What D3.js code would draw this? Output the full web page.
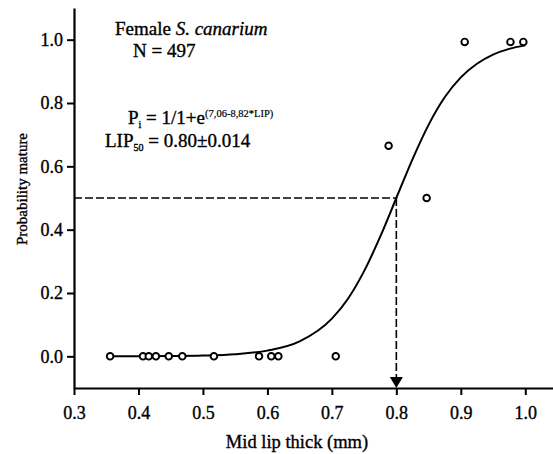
<!DOCTYPE html>
<html>
<head>
<meta charset="utf-8">
<script src="https://cdn.jsdelivr.net/npm/d3@7"></script>
<style>
  body { margin: 0; background: #fff; }
  text { font-family: "Liberation Serif", "Times New Roman", serif; fill: #000; stroke: #000; stroke-width: 0.35px; }
</style>
</head>
<body>
<div id="chart"></div>
<script>
// observed proportions mature by mid lip thickness
const lipX = [0.356, 0.407, 0.416, 0.427, 0.447, 0.468, 0.517, 0.587, 0.606, 0.617, 0.706, 0.788, 0.847, 0.906, 0.977, 0.997];
const propMature = [0, 0, 0, 0, 0, 0, 0, 0, 0, 0, 0, 0.665, 0.5, 0.993, 0.993, 0.993];

// fitted logistic curve
const curveX = [0.356, 0.40, 0.45, 0.50, 0.55, 0.60, 0.65, 0.70, 0.725, 0.75, 0.775, 0.80, 0.825, 0.85, 0.875, 0.90, 0.925, 0.95, 0.975, 1.0];
const curveY = [0.0002, 0.0003, 0.0009, 0.0025, 0.0067, 0.018, 0.047, 0.119, 0.182, 0.269, 0.378, 0.5, 0.622, 0.731, 0.818, 0.881, 0.924, 0.953, 0.971, 0.982];

const xTicks = [0.3, 0.4, 0.5, 0.6, 0.7, 0.8, 0.9, 1.0];
const yTicks = [0.0, 0.2, 0.4, 0.6, 0.8, 1.0];
const LIP50 = 0.80;

const width = 553, height = 454;
const svg = d3.select("#chart").append("svg")
    .attr("width", width)
    .attr("height", height);

const x = d3.scaleLinear().domain([0.3, 1.043]).range([74, 553]);
const y = d3.scaleLinear().domain([-0.1, 1.1]).range([388, 8]);

// axes
const xAxis = d3.axisBottom(x).tickValues(xTicks).tickFormat(d3.format(".1f")).tickSize(7).tickPadding(11).tickSizeOuter(0);
const yAxis = d3.axisLeft(y).tickValues(yTicks).tickFormat(d3.format(".1f")).tickSize(7).tickPadding(4).tickSizeOuter(0);

const gx = svg.append("g").attr("transform", `translate(0,${y(-0.1)})`).call(xAxis);
const gy = svg.append("g").attr("transform", `translate(${x(0.3)},0)`).call(yAxis);

[gx, gy].forEach(g => {
    g.select(".domain").attr("stroke", "#000").attr("stroke-width", 2.2);
    g.selectAll(".tick line").attr("stroke", "#000").attr("stroke-width", 2);
    g.selectAll(".tick text")
        .style("font-size", "18px")
        .style("font-family", "Liberation Serif, serif")
        .attr("stroke", "#000").attr("stroke-width", 0.35);
});

// axis titles
svg.append("text")
    .attr("x", 297).attr("y", 448)
    .attr("text-anchor", "middle")
    .style("font-size", "18.5px")
    .text("Mid lip thick (mm)");

svg.append("text")
    .attr("transform", "translate(27,189) rotate(-90)")
    .attr("text-anchor", "middle")
    .style("font-size", "15px")
    .text("Probability mature");

// dashed reference lines
svg.append("line")
    .attr("x1", x(0.3)).attr("x2", x(LIP50))
    .attr("y1", y(0.5)).attr("y2", y(0.5))
    .attr("stroke", "#000").attr("stroke-width", 1.6)
    .attr("stroke-dasharray", "8,3");

svg.append("line")
    .attr("x1", x(LIP50)).attr("x2", x(LIP50))
    .attr("y1", y(0.5)).attr("y2", y(-0.1) - 10)
    .attr("stroke", "#000").attr("stroke-width", 1.6)
    .attr("stroke-dasharray", "8,3");

svg.append("path")
    .attr("d", `M${x(LIP50) - 6.5},${y(-0.1) - 11} L${x(LIP50) + 6.5},${y(-0.1) - 11} L${x(LIP50)},${y(-0.1)} Z`)
    .attr("fill", "#000");

// fitted curve
const line = d3.line()
    .x((d, i) => x(curveX[i]))
    .y(d => y(d))
    .curve(d3.curveMonotoneX);

svg.append("path")
    .attr("d", line(curveY))
    .attr("fill", "none")
    .attr("stroke", "#000")
    .attr("stroke-width", 2);

// observed points
svg.selectAll("circle.obs")
    .data(propMature)
    .enter()
    .append("circle")
    .attr("class", "obs")
    .attr("cx", (d, i) => x(lipX[i]))
    .attr("cy", d => y(d))
    .attr("r", 3.3)
    .attr("fill", "#fff")
    .attr("stroke", "#000")
    .attr("stroke-width", 1.9);

// annotations
const t1 = svg.append("text").attr("x", 115).attr("y", 35).style("font-size", "19px");
t1.append("tspan").text("Female ");
t1.append("tspan").style("font-style", "italic").text("S. canarium");

svg.append("text").attr("x", 133).attr("y", 57).style("font-size", "19px").text("N = 497");

const t3 = svg.append("text").attr("x", 128).attr("y", 124).style("font-size", "19px");
t3.append("tspan").text("P");
t3.append("tspan").attr("dy", 4).style("font-size", "10px").text("i");
t3.append("tspan").attr("dy", -4).text(" = 1/1+e");
t3.append("tspan").attr("dy", -7).style("font-size", "10.5px").attr("stroke-width", 0.2).text("(7,06-8,82*LIP)");

const t4 = svg.append("text").attr("x", 105).attr("y", 147).style("font-size", "19px");
t4.append("tspan").text("LIP");
t4.append("tspan").attr("dy", 4).style("font-size", "10px").text("50");
t4.append("tspan").attr("dy", -4).text(" = 0.80\u00b10.014");
</script>
</body>
</html>
